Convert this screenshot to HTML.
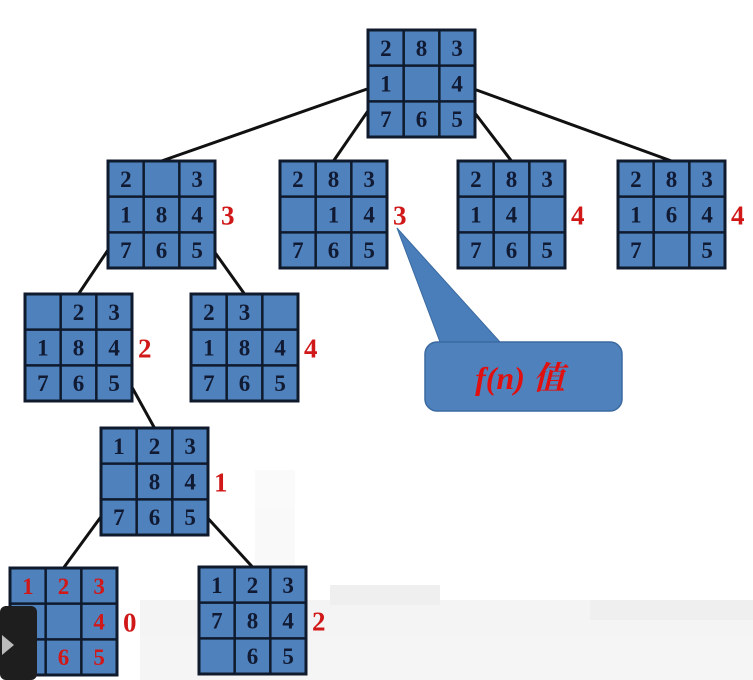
<!DOCTYPE html>
<html><head><meta charset="utf-8"><style>
html,body{margin:0;padding:0;background:#fff;width:753px;height:680px;overflow:hidden}
svg{display:block}
text{font-family:"Liberation Serif","Noto Serif CJK SC",serif;font-weight:bold}
</style></head><body>
<svg id="s" width="753" height="680" viewBox="0 0 753 680">
<g opacity="0.3">
<rect x="140" y="600" width="613" height="80" fill="#ddd"/>
<rect x="330" y="585" width="110" height="20" fill="#ccc"/>
<rect x="590" y="600" width="163" height="20" fill="#ccc"/>
<rect x="255" y="470" width="40" height="120" fill="#eee"/>
</g>
<g id="edges" stroke="#111" stroke-width="3"></g>
<g id="boards"></g>
<g>
<path d="M440 342 L397 228 L500 342 Z" fill="#4a7ebb" stroke="#3a6aa0" stroke-width="1"/>
<rect x="425" y="342" width="197" height="69" rx="12" fill="#4f81bd" stroke="#3a6aa0" stroke-width="1.5"/>
<text x="520" y="389" text-anchor="middle" font-size="32" fill="#e01010" font-style="italic">f(n) 值</text>
</g>
<g>
<rect x="0" y="606" width="37" height="74" rx="6" fill="#1e1e1e"/>
<path d="M2 635 L14 645 L2 655 Z" fill="#bbb"/>
</g>
</svg>
<script>
const boardNames=["root","a","b","c","d","e","f","g","h","i"];
const boardTiles=[
"2831 4765","2 3184765","283 14765","28314 765","2831647 5",
" 23184765","23 184765","123 84765","1238 4765","123784 65"];
const boardPos=[[368,30],[108,161],[280,161],[458,161],[618,161],[25,294],[191,294],[101,428],[10,568],[199,567]];
const fValues=["","3","3","4","4","2","4","1","0","2"];
const edgeList=[[0,1],[0,2],[0,3],[0,4],[1,5],[1,6],[5,7],[7,8],[7,9]];
const NS="http://www.w3.org/2000/svg";
const S=107,C=S/3;
const eg=document.getElementById('edges'),bg=document.getElementById('boards');
edgeList.forEach(([p,c])=>{
 const [px,py]=boardPos[p],[cx,cy]=boardPos[c];
 const ex=cx+S/2;
 const left=ex<px+S/2;
 let sx=left?px+2:px+S-4;
 let sy;
 if(p===0) sy=py+(Math.abs(ex-(px+S/2))>200?58:78); else sy=py+86;
 const l=document.createElementNS(NS,'line');
 l.setAttribute('x1',sx);l.setAttribute('y1',sy);
 l.setAttribute('x2',ex);l.setAttribute('y2',cy);
 
 
 eg.appendChild(l);
});
boardPos.forEach(([x,y],i)=>{
 const g=document.createElementNS(NS,'g');
 
 
 let h=`<rect x="${x}" y="${y}" width="${S}" height="${S}" fill="#4f81bd" stroke="#0f1a2c" stroke-width="3"/>`;
 for(let k=1;k<3;k++){h+=`<line x1="${x+k*C}" y1="${y}" x2="${x+k*C}" y2="${y+S}" stroke="#0f1a2c" stroke-width="2.5"/><line x1="${x}" y1="${y+k*C}" x2="${x+S}" y2="${y+k*C}" stroke="#0f1a2c" stroke-width="2.5"/>`;}
 const col=i===8?"#d01818":"#111a33";
 for(let t=0;t<9;t++){const ch=boardTiles[i][t];if(ch===' ')continue;
  h+=`<text x="${x+(t%3)*C+C/2}" y="${y+Math.floor(t/3)*C+C/2+8}" text-anchor="middle" font-size="23" fill="${col}">${ch}</text>`;}
 g.innerHTML=h;bg.appendChild(g);
 if(fValues[i]){const t=document.createElementNS(NS,'text');
  t.setAttribute('x',x+S+6);t.setAttribute('y',y+S/2+10);t.setAttribute('font-size','27');t.setAttribute('fill','#d01818');
  t.textContent=fValues[i];
  
  
  bg.appendChild(t);}
});
</script>
</body></html>
